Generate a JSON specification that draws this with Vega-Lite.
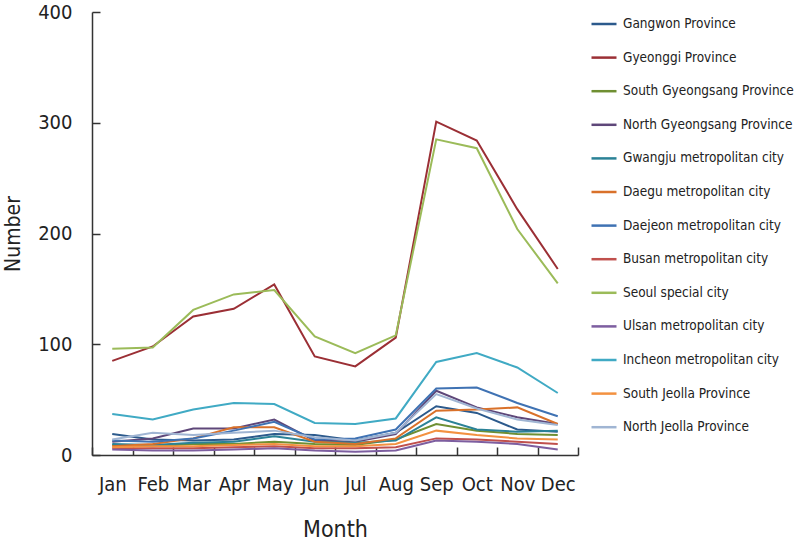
{
  "$schema": "https://vega.github.io/schema/vega-lite/v6.json",
  "autosize": {"type": "none"},
  "width": 486,
  "height": 443,
  "padding": {"left": 92, "top": 12, "right": 220, "bottom": 89},
  "background": "white",
  "config": {
    "view": {"stroke": null},
    "font": "DejaVu Sans Condensed, Roboto, sans-serif",
    "axis": {"grid": false, "domainColor": "#333333", "tickColor": "#333333", "domainWidth": 1.5, "tickWidth": 1.5, "labelColor": "#222222", "titleColor": "#222222", "labelFont": "DejaVu Sans Condensed, Roboto, sans-serif", "titleFont": "DejaVu Sans Condensed, Roboto, sans-serif", "titleFontWeight": "normal"},
    "legend": {"labelFont": "DejaVu Sans Condensed, Roboto, sans-serif"}
  },
  "data": {"values": [
    {"region": "Gangwon Province", "month": "Jan", "value": 19}, {"region": "Gangwon Province", "month": "Feb", "value": 14}, {"region": "Gangwon Province", "month": "Mar", "value": 13}, {"region": "Gangwon Province", "month": "Apr", "value": 14}, {"region": "Gangwon Province", "month": "May", "value": 19}, {"region": "Gangwon Province", "month": "Jun", "value": 18}, {"region": "Gangwon Province", "month": "Jul", "value": 13}, {"region": "Gangwon Province", "month": "Aug", "value": 20}, {"region": "Gangwon Province", "month": "Sep", "value": 44}, {"region": "Gangwon Province", "month": "Oct", "value": 38}, {"region": "Gangwon Province", "month": "Nov", "value": 23}, {"region": "Gangwon Province", "month": "Dec", "value": 21},
    {"region": "Gyeonggi Province", "month": "Jan", "value": 85}, {"region": "Gyeonggi Province", "month": "Feb", "value": 98}, {"region": "Gyeonggi Province", "month": "Mar", "value": 125}, {"region": "Gyeonggi Province", "month": "Apr", "value": 132}, {"region": "Gyeonggi Province", "month": "May", "value": 154}, {"region": "Gyeonggi Province", "month": "Jun", "value": 89}, {"region": "Gyeonggi Province", "month": "Jul", "value": 80}, {"region": "Gyeonggi Province", "month": "Aug", "value": 106}, {"region": "Gyeonggi Province", "month": "Sep", "value": 301}, {"region": "Gyeonggi Province", "month": "Oct", "value": 284}, {"region": "Gyeonggi Province", "month": "Nov", "value": 222}, {"region": "Gyeonggi Province", "month": "Dec", "value": 168},
    {"region": "South Gyeongsang Province", "month": "Jan", "value": 9}, {"region": "South Gyeongsang Province", "month": "Feb", "value": 8}, {"region": "South Gyeongsang Province", "month": "Mar", "value": 10}, {"region": "South Gyeongsang Province", "month": "Apr", "value": 10}, {"region": "South Gyeongsang Province", "month": "May", "value": 12}, {"region": "South Gyeongsang Province", "month": "Jun", "value": 10}, {"region": "South Gyeongsang Province", "month": "Jul", "value": 9}, {"region": "South Gyeongsang Province", "month": "Aug", "value": 14}, {"region": "South Gyeongsang Province", "month": "Sep", "value": 28}, {"region": "South Gyeongsang Province", "month": "Oct", "value": 22}, {"region": "South Gyeongsang Province", "month": "Nov", "value": 19}, {"region": "South Gyeongsang Province", "month": "Dec", "value": 18},
    {"region": "North Gyeongsang Province", "month": "Jan", "value": 12}, {"region": "North Gyeongsang Province", "month": "Feb", "value": 15}, {"region": "North Gyeongsang Province", "month": "Mar", "value": 24}, {"region": "North Gyeongsang Province", "month": "Apr", "value": 24}, {"region": "North Gyeongsang Province", "month": "May", "value": 32}, {"region": "North Gyeongsang Province", "month": "Jun", "value": 13}, {"region": "North Gyeongsang Province", "month": "Jul", "value": 12}, {"region": "North Gyeongsang Province", "month": "Aug", "value": 19}, {"region": "North Gyeongsang Province", "month": "Sep", "value": 58}, {"region": "North Gyeongsang Province", "month": "Oct", "value": 43}, {"region": "North Gyeongsang Province", "month": "Nov", "value": 34}, {"region": "North Gyeongsang Province", "month": "Dec", "value": 28},
    {"region": "Gwangju metropolitan city", "month": "Jan", "value": 10}, {"region": "Gwangju metropolitan city", "month": "Feb", "value": 9}, {"region": "Gwangju metropolitan city", "month": "Mar", "value": 11}, {"region": "Gwangju metropolitan city", "month": "Apr", "value": 12}, {"region": "Gwangju metropolitan city", "month": "May", "value": 17}, {"region": "Gwangju metropolitan city", "month": "Jun", "value": 12}, {"region": "Gwangju metropolitan city", "month": "Jul", "value": 11}, {"region": "Gwangju metropolitan city", "month": "Aug", "value": 13}, {"region": "Gwangju metropolitan city", "month": "Sep", "value": 34}, {"region": "Gwangju metropolitan city", "month": "Oct", "value": 23}, {"region": "Gwangju metropolitan city", "month": "Nov", "value": 21}, {"region": "Gwangju metropolitan city", "month": "Dec", "value": 22},
    {"region": "Daegu metropolitan city", "month": "Jan", "value": 8}, {"region": "Daegu metropolitan city", "month": "Feb", "value": 10}, {"region": "Daegu metropolitan city", "month": "Mar", "value": 15}, {"region": "Daegu metropolitan city", "month": "Apr", "value": 25}, {"region": "Daegu metropolitan city", "month": "May", "value": 25}, {"region": "Daegu metropolitan city", "month": "Jun", "value": 12}, {"region": "Daegu metropolitan city", "month": "Jul", "value": 10}, {"region": "Daegu metropolitan city", "month": "Aug", "value": 15}, {"region": "Daegu metropolitan city", "month": "Sep", "value": 40}, {"region": "Daegu metropolitan city", "month": "Oct", "value": 41}, {"region": "Daegu metropolitan city", "month": "Nov", "value": 43}, {"region": "Daegu metropolitan city", "month": "Dec", "value": 28},
    {"region": "Daejeon metropolitan city", "month": "Jan", "value": 13}, {"region": "Daejeon metropolitan city", "month": "Feb", "value": 12}, {"region": "Daejeon metropolitan city", "month": "Mar", "value": 15}, {"region": "Daejeon metropolitan city", "month": "Apr", "value": 22}, {"region": "Daejeon metropolitan city", "month": "May", "value": 30}, {"region": "Daejeon metropolitan city", "month": "Jun", "value": 14}, {"region": "Daejeon metropolitan city", "month": "Jul", "value": 15}, {"region": "Daejeon metropolitan city", "month": "Aug", "value": 23}, {"region": "Daejeon metropolitan city", "month": "Sep", "value": 60}, {"region": "Daejeon metropolitan city", "month": "Oct", "value": 61}, {"region": "Daejeon metropolitan city", "month": "Nov", "value": 47}, {"region": "Daejeon metropolitan city", "month": "Dec", "value": 35},
    {"region": "Busan metropolitan city", "month": "Jan", "value": 6}, {"region": "Busan metropolitan city", "month": "Feb", "value": 6}, {"region": "Busan metropolitan city", "month": "Mar", "value": 6}, {"region": "Busan metropolitan city", "month": "Apr", "value": 7}, {"region": "Busan metropolitan city", "month": "May", "value": 8}, {"region": "Busan metropolitan city", "month": "Jun", "value": 6}, {"region": "Busan metropolitan city", "month": "Jul", "value": 6}, {"region": "Busan metropolitan city", "month": "Aug", "value": 7}, {"region": "Busan metropolitan city", "month": "Sep", "value": 15}, {"region": "Busan metropolitan city", "month": "Oct", "value": 14}, {"region": "Busan metropolitan city", "month": "Nov", "value": 12}, {"region": "Busan metropolitan city", "month": "Dec", "value": 10},
    {"region": "Seoul special city", "month": "Jan", "value": 96}, {"region": "Seoul special city", "month": "Feb", "value": 97}, {"region": "Seoul special city", "month": "Mar", "value": 131}, {"region": "Seoul special city", "month": "Apr", "value": 145}, {"region": "Seoul special city", "month": "May", "value": 149}, {"region": "Seoul special city", "month": "Jun", "value": 107}, {"region": "Seoul special city", "month": "Jul", "value": 92}, {"region": "Seoul special city", "month": "Aug", "value": 108}, {"region": "Seoul special city", "month": "Sep", "value": 285}, {"region": "Seoul special city", "month": "Oct", "value": 277}, {"region": "Seoul special city", "month": "Nov", "value": 204}, {"region": "Seoul special city", "month": "Dec", "value": 155},
    {"region": "Ulsan metropolitan city", "month": "Jan", "value": 5}, {"region": "Ulsan metropolitan city", "month": "Feb", "value": 4}, {"region": "Ulsan metropolitan city", "month": "Mar", "value": 4}, {"region": "Ulsan metropolitan city", "month": "Apr", "value": 5}, {"region": "Ulsan metropolitan city", "month": "May", "value": 6}, {"region": "Ulsan metropolitan city", "month": "Jun", "value": 4}, {"region": "Ulsan metropolitan city", "month": "Jul", "value": 3}, {"region": "Ulsan metropolitan city", "month": "Aug", "value": 4}, {"region": "Ulsan metropolitan city", "month": "Sep", "value": 13}, {"region": "Ulsan metropolitan city", "month": "Oct", "value": 12}, {"region": "Ulsan metropolitan city", "month": "Nov", "value": 10}, {"region": "Ulsan metropolitan city", "month": "Dec", "value": 5},
    {"region": "Incheon metropolitan city", "month": "Jan", "value": 37}, {"region": "Incheon metropolitan city", "month": "Feb", "value": 32}, {"region": "Incheon metropolitan city", "month": "Mar", "value": 41}, {"region": "Incheon metropolitan city", "month": "Apr", "value": 47}, {"region": "Incheon metropolitan city", "month": "May", "value": 46}, {"region": "Incheon metropolitan city", "month": "Jun", "value": 29}, {"region": "Incheon metropolitan city", "month": "Jul", "value": 28}, {"region": "Incheon metropolitan city", "month": "Aug", "value": 33}, {"region": "Incheon metropolitan city", "month": "Sep", "value": 84}, {"region": "Incheon metropolitan city", "month": "Oct", "value": 92}, {"region": "Incheon metropolitan city", "month": "Nov", "value": 79}, {"region": "Incheon metropolitan city", "month": "Dec", "value": 56},
    {"region": "South Jeolla Province", "month": "Jan", "value": 7}, {"region": "South Jeolla Province", "month": "Feb", "value": 8}, {"region": "South Jeolla Province", "month": "Mar", "value": 8}, {"region": "South Jeolla Province", "month": "Apr", "value": 9}, {"region": "South Jeolla Province", "month": "May", "value": 10}, {"region": "South Jeolla Province", "month": "Jun", "value": 8}, {"region": "South Jeolla Province", "month": "Jul", "value": 8}, {"region": "South Jeolla Province", "month": "Aug", "value": 10}, {"region": "South Jeolla Province", "month": "Sep", "value": 22}, {"region": "South Jeolla Province", "month": "Oct", "value": 18}, {"region": "South Jeolla Province", "month": "Nov", "value": 15}, {"region": "South Jeolla Province", "month": "Dec", "value": 14},
    {"region": "North Jeolla Province", "month": "Jan", "value": 14}, {"region": "North Jeolla Province", "month": "Feb", "value": 20}, {"region": "North Jeolla Province", "month": "Mar", "value": 18}, {"region": "North Jeolla Province", "month": "Apr", "value": 20}, {"region": "North Jeolla Province", "month": "May", "value": 22}, {"region": "North Jeolla Province", "month": "Jun", "value": 16}, {"region": "North Jeolla Province", "month": "Jul", "value": 13}, {"region": "North Jeolla Province", "month": "Aug", "value": 20}, {"region": "North Jeolla Province", "month": "Sep", "value": 55}, {"region": "North Jeolla Province", "month": "Oct", "value": 42}, {"region": "North Jeolla Province", "month": "Nov", "value": 32}, {"region": "North Jeolla Province", "month": "Dec", "value": 27}
  ]},
  "mark": {"type": "line", "strokeWidth": 2},
  "encoding": {
    "x": {
      "field": "month", "type": "ordinal", "bandPosition": 0.5,
      "sort": ["Jan", "Feb", "Mar", "Apr", "May", "Jun", "Jul", "Aug", "Sep", "Oct", "Nov", "Dec"],
      "scale": {"type": "band", "paddingInner": 0, "paddingOuter": 0},
      "axis": {"title": "Month", "titleFontSize": 23, "titlePadding": 24, "labelFontSize": 20, "labelAngle": 0, "labelPadding": 27, "tickSize": -8, "tickBand": "extent", "labelBaseline": "top"}
    },
    "y": {
      "field": "value", "type": "quantitative",
      "scale": {"domain": [0, 400], "nice": false},
      "axis": {"title": "Number", "titleFontSize": 21, "titlePadding": 14, "labelFontSize": 20, "labelPadding": 28, "tickSize": -8, "values": [0, 100, 200, 300, 400]}
    },
    "color": {
      "field": "region", "type": "nominal",
      "sort": ["Gangwon Province", "Gyeonggi Province", "South Gyeongsang Province", "North Gyeongsang Province", "Gwangju metropolitan city", "Daegu metropolitan city", "Daejeon metropolitan city", "Busan metropolitan city", "Seoul special city", "Ulsan metropolitan city", "Incheon metropolitan city", "South Jeolla Province", "North Jeolla Province"],
      "scale": {
        "domain": ["Gangwon Province", "Gyeonggi Province", "South Gyeongsang Province", "North Gyeongsang Province", "Gwangju metropolitan city", "Daegu metropolitan city", "Daejeon metropolitan city", "Busan metropolitan city", "Seoul special city", "Ulsan metropolitan city", "Incheon metropolitan city", "South Jeolla Province", "North Jeolla Province"],
        "range": ["#2c5a8c", "#9b2f35", "#6f8f32", "#5e4779", "#2b8297", "#d9712a", "#3f72b3", "#c0504d", "#9bbb59", "#7d5ea0", "#40aac4", "#f39140", "#a0b5d3"]
      },
      "legend": {
        "title": null, "orient": "none", "legendX": 498, "legendY": -2,
        "symbolType": "stroke", "symbolSize": 625, "symbolStrokeWidth": 2.5,
        "labelFontSize": 13.5, "labelColor": "#222222", "labelLimit": 300, "labelOffset": 5,
        "rowPadding": 12.6, "padding": 0
      }
    }
  }
}
